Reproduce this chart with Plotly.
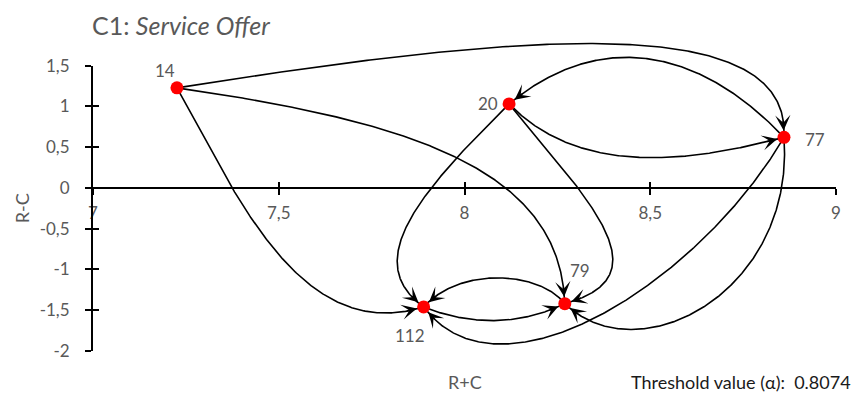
import numpy as np
import plotly.graph_objects as go

# Causal positions of the factors (R+C = prominence, R-C = relation)
node_labels = ["14", "20", "77", "112", "79"]
r_plus_c = [7.226, 8.12, 8.86, 7.89, 8.27]
r_minus_c = [1.227, 1.03, 0.62, -1.46, -1.42]

# Influence relations above the threshold value
edge_from = ["14", "14", "14", "20", "20", "20", "77", "77", "77", "112", "79"]
edge_to = ["77", "79", "112", "112", "79", "77", "20", "112", "79", "79", "112"]
threshold = 0.8074

# Axis ticks
x_ticks = [7, 7.5, 8, 8.5, 9]
x_tick_text = ["7", "7,5", "8", "8,5", "9"]
y_ticks = [-2, -1.5, -1, -0.5, 0, 0.5, 1, 1.5]
y_tick_text = ["-2", "-1,5", "-1", "-0,5", "0", "0,5", "1", "1,5"]

# Bezier handles that route each curved arrow (data units)
handle_1 = [(8.149, 1.896), (7.880, 0.802), (7.382, -0.049), (7.880, -0.049),
            (8.338, -0.170), (8.311, 0.134), (8.634, 1.713), (8.634, -1.142),
            (8.890, -1.264), (8.015, -1.689), (8.203, -1.021)]
handle_2 = [(8.880, 2.200), (8.257, 0.194), (7.557, -1.932), (7.719, -0.899),
            (8.539, -1.081), (8.607, 0.316), (8.365, 1.956), (8.097, -2.722),
            (8.472, -2.296), (8.149, -1.689), (7.988, -0.960)]

W, H = 856, 394
M = dict(l=93, r=20, t=20, b=43)
AXIS_TOP = 63                      # pixel row where the drawn R-C axis ends
XR, YR = [7, 9], [-2, 1.5]
px_x = (W - M["l"] - M["r"]) / (XR[1] - XR[0])
px_y = (H - AXIS_TOP - M["b"]) / (YR[1] - YR[0])
# the curves use a taller data area so the arcs above 1,5 are not clipped
y_top = YR[1] + (AXIS_TOP - M["t"]) / px_y
plot_h = H - M["t"] - M["b"]
axis_frac = (H - AXIS_TOP - M["b"]) / plot_h
zero_pos = (0 - YR[0]) / (y_top - YR[0])

pos = {n: (x, y) for n, x, y in zip(node_labels, r_plus_c, r_minus_c)}

GRAY = "#595959"
FONT = "Lato"

def paper_x(px):
    return (px - M["l"]) / (W - M["l"] - M["r"])

def paper_y(py):
    return (H - M["b"] - py) / plot_h

fig = go.Figure()
annotations = []

t = np.linspace(0, 1, 300)
for src, dst, h1, h2 in zip(edge_from, edge_to, handle_1, handle_2):
    p0 = np.array(pos[src]); p3 = np.array(pos[dst])
    p1 = np.array(h1); p2 = np.array(h2)
    pts = (((1 - t) ** 3)[:, None] * p0 + (3 * (1 - t) ** 2 * t)[:, None] * p1
           + (3 * (1 - t) * t ** 2)[:, None] * p2 + (t ** 3)[:, None] * p3)
    fig.add_trace(go.Scatter(x=pts[:, 0], y=pts[:, 1], mode="lines",
                             line=dict(color="black", width=1.6),
                             hoverinfo="skip", showlegend=False))
    # tail of the arrowhead: a point on the curve ~18 px before the target
    d = np.hypot((pts[:, 0] - p3[0]) * px_x, (pts[:, 1] - p3[1]) * px_y)
    idx = np.where(d >= 18)[0][-1]
    annotations.append(dict(x=p3[0], y=p3[1], ax=pts[idx, 0], ay=pts[idx, 1],
                            xref="x", yref="y", axref="x", ayref="y", text="",
                            showarrow=True, arrowhead=3, arrowsize=1.7,
                            arrowwidth=1.5, arrowcolor="black", standoff=7))

fig.add_trace(go.Scatter(x=r_plus_c, y=r_minus_c, mode="markers",
                         marker=dict(color="#ff0000", size=13),
                         hoverinfo="skip", showlegend=False))
# empty traces so the drawn axes exist
for xa, ya in [("x", "y3"), ("x", "y4"), ("x2", "y")]:
    fig.add_trace(go.Scatter(x=[None], y=[None], xaxis=xa, yaxis=ya,
                             showlegend=False, hoverinfo="skip"))

# node labels
label_shift = {"14": (-12, 17), "20": (-21, 0), "77": (31, -2),
               "112": (-14, -29), "79": (15, 33)}
for n in node_labels:
    dx, dy = label_shift[n]
    annotations.append(dict(x=pos[n][0], y=pos[n][1], xref="x", yref="y",
                            text=n, showarrow=False, xshift=dx, yshift=dy,
                            font=dict(family=FONT, size=17, color=GRAY)))

annotations += [
    dict(x=paper_x(90), y=paper_y(22), xref="paper", yref="paper",
         xanchor="left", yanchor="middle", showarrow=False,
         text="C1: <i>Service Offer</i>",
         font=dict(family=FONT, size=25, color=GRAY)),
    dict(x=paper_x(22), y=paper_y(207), xref="paper", yref="paper",
         xanchor="center", yanchor="middle", textangle=-90,
         showarrow=False, text="R-C",
         font=dict(family=FONT, size=18, color=GRAY)),
    dict(x=paper_x(465), y=paper_y(382), xref="paper", yref="paper",
         xanchor="center", yanchor="middle", showarrow=False,
         text="R+C", font=dict(family=FONT, size=18, color=GRAY)),
    dict(x=paper_x(853), y=paper_y(382), xref="paper", yref="paper",
         xanchor="right", yanchor="middle", showarrow=False,
         text=f"Threshold value (α):  {threshold}",
         font=dict(family=FONT, size=18, color="#1a1a1a")),
]

tick_common = dict(showgrid=False, zeroline=False, linecolor="black",
                   tickcolor="black", tickwidth=2, ticklen=6)

fig.update_layout(
    width=W, height=H, margin=M,
    paper_bgcolor="white", plot_bgcolor="rgba(0,0,0,0)",
    showlegend=False,
    xaxis=dict(range=XR, anchor="free", position=zero_pos,
               showline=True, linewidth=2, ticks="outside",
               tickvals=x_ticks, ticktext=x_tick_text, ticklabelstandoff=4,
               tickfont=dict(family=FONT, size=17, color=GRAY), **tick_common),
    xaxis2=dict(range=XR, overlaying="x", anchor="free", position=zero_pos,
                showline=False, ticks="inside", tickvals=x_ticks,
                showticklabels=False, **tick_common),
    yaxis=dict(range=[YR[0], y_top], domain=[0, 1], visible=False,
               showgrid=False, zeroline=False),
    yaxis3=dict(range=YR, domain=[0, axis_frac], anchor="x", showline=True,
                linewidth=2, ticks="outside", tickvals=y_ticks,
                ticktext=y_tick_text, ticklabelstandoff=12,
                tickfont=dict(family=FONT, size=17, color=GRAY), **tick_common),
    yaxis4=dict(range=YR, overlaying="y3", anchor="x", side="left",
                showline=False, ticks="inside", tickvals=y_ticks,
                showticklabels=False, **tick_common),
    annotations=annotations,
)

fig.write_html("out.html")
